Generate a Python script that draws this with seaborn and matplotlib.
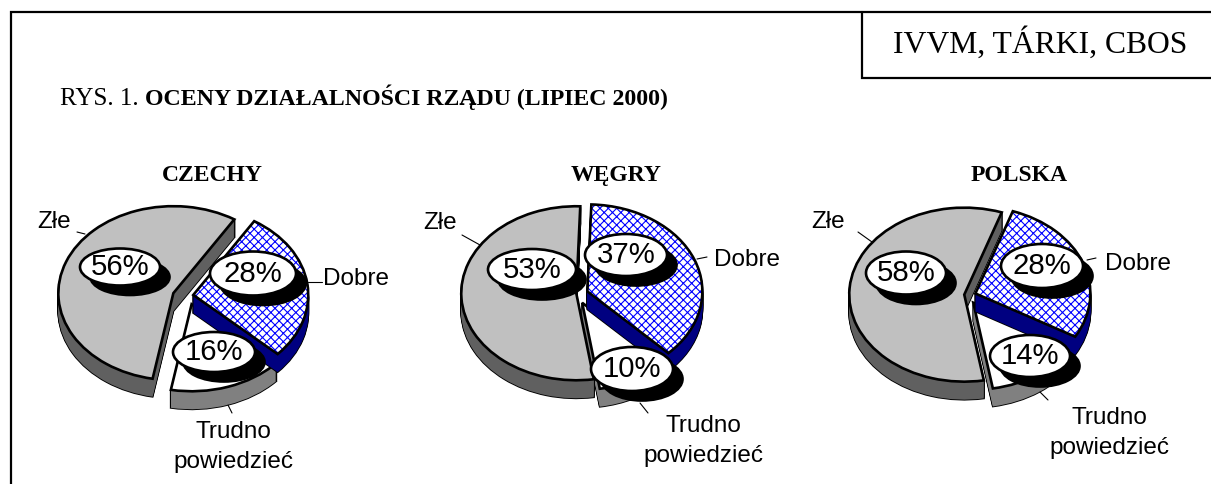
import matplotlib
matplotlib.use('Agg')
import matplotlib.pyplot as plt
from matplotlib.patches import Ellipse
import seaborn as sns

# data
countries = ['CZECHY', 'WĘGRY', 'POLSKA']
categories = ['Dobre', 'Trudno powiedzieć', 'Złe']
czechy = [28, 16, 56]
wegry = [37, 10, 53]
polska = [28, 14, 58]

# layout, in reference pixels
W, H = 1211, 484
RX, RY, DEPTH = 115, 87, 18
centers = [(183, 296), (582, 293), (970, 295)]
start_angles = [58, 88, 71]
explodes = [[0.09, 0.10, 0.09], [0.05, 0.10, 0.05], [0.05, 0.08, 0.05]]
trudno_shift = [(5, 0), (-5, 2), (-2, 2)]
draw_order = [1, 0, 2]

top_colors = sns.color_palette(['#ffffff', '#ffffff', '#c0c0c0'])
side_colors = sns.color_palette(['#000080', '#808080', '#606060'])

title_x = [212, 616, 1019]
bubbles = [
    [(253, 273.5, 43, 22), (214, 352, 41, 20), (120, 267, 40, 18.5)],
    [(626, 255, 41, 21), (632, 369, 41, 22), (532, 269.5, 44, 20.5)],
    [(1042, 266, 41, 22), (1030, 356, 40, 21), (906, 273, 40, 21.5)],
]
name_pos = [
    [(356, 279), (233, 432), (54, 222)],
    [(747, 260), (703, 426), (440, 223)],
    [(1138, 264), (1109, 418), (828, 222)],
]
leaders = [
    [(308, 282, 322, 282), (228, 405, 232, 413), (77, 232, 85, 234)],
    [(697, 259, 707, 257), (640, 403, 648, 413), (462, 235, 480, 245)],
    [(1087, 260, 1096, 258), (1040, 392, 1048, 400), (858, 232, 872, 242)],
]

sns.set_theme(style='white')
plt.rcParams['font.family'] = ['Liberation Sans', 'DejaVu Sans']
plt.rcParams['hatch.linewidth'] = 0.8
plt.rcParams['hatch.color'] = '#0000ff'

fig = plt.figure(figsize=(W / 100, H / 100), dpi=100, facecolor='white')


def nudge(wd, shift):
    # the "Trudno powiedzieć" slice sits a little off its radial explode position
    x, y = wd.center
    wd.set_center((x + shift[0] / RX, y - shift[1] / RY))


def draw_pie(values, center, start, explode, shift):
    cx, cy = center
    ax = fig.add_axes([(cx - 170) / W, 1 - (cy + 130) / H, 340 / W, 240 / H])
    # extruded body: black silhouette first, then fill on top of it
    for step in range(DEPTH, 0, -1):
        for fill in (False, True):
            wedges, _ = ax.pie(values, startangle=start, counterclock=False, explode=explode,
                               center=(0, -step / RY), colors=side_colors)
            nudge(wedges[1], shift)
            for i, wd in enumerate(wedges):
                wd.set_zorder(draw_order[i] * 10 + (1 if fill else 0))
                if fill:
                    wd.set_linewidth(0)
                else:
                    wd.set_edgecolor('black')
                    wd.set_linewidth(1.3)
    # top faces
    wedges, _ = ax.pie(values, startangle=start, counterclock=False, explode=explode, colors=top_colors)
    nudge(wedges[1], shift)
    for i, wd in enumerate(wedges):
        wd.set_zorder(draw_order[i] * 10 + 2)
        wd.set_linewidth(0)
        if i == 0:
            wd.set_hatch('xxxx')
            wd.set_edgecolor('#0000ff')
    outlines, _ = ax.pie(values, startangle=start, counterclock=False, explode=explode,
                         colors=top_colors)
    nudge(outlines[1], shift)
    for i, wd in enumerate(outlines):
        wd.set_facecolor('none')
        wd.set_edgecolor('black')
        wd.set_linewidth(1.9)
        wd.set_zorder(draw_order[i] * 10 + 3)
    ax.set_aspect('auto')
    ax.set_xlim(-170 / RX, 170 / RX)
    ax.set_ylim(-130 / RY, 110 / RY)
    ax.axis('off')


all_values = [czechy, wegry, polska]
for k in range(3):
    draw_pie(all_values[k], centers[k], start_angles[k], explodes[k], trudno_shift[k])

# overlay in pixel coordinates for the frame, titles and labels
over = fig.add_axes([0, 0, 1, 1], zorder=5)
over.set_xlim(0, W)
over.set_ylim(H, 0)
over.axis('off')

over.plot([11, 11, W], [H, 12, 12], color='black', lw=1.6, solid_joinstyle='miter')
over.plot([862, 862, W], [12, 78, 78], color='black', lw=1.6, solid_joinstyle='miter')
over.text(1040, 53, 'IVVM, TÁRKI, CBOS', family='Liberation Serif', fontsize=22.8,
          ha='center', va='baseline', color='black')
over.text(60, 105, 'RYS. 1.', family='Liberation Serif', fontsize=18, va='baseline', color='black')
over.text(145, 105, 'OCENY DZIAŁALNOŚCI RZĄDU (LIPIEC 2000)', family='Liberation Serif',
          fontsize=17.2, fontweight='bold', va='baseline', color='black')

for k, name in enumerate(countries):
    over.text(title_x[k], 181, name, family='Liberation Serif', fontsize=17, fontweight='bold',
              ha='center', va='baseline', color='black')
    for i, value in enumerate(all_values[k]):
        x, y, hw, hh = bubbles[k][i]
        over.add_patch(Ellipse((x + 10, y + 10), hw * 2, hh * 2, fc='black', ec='black', lw=1.2))
        over.add_patch(Ellipse((x, y), hw * 2, hh * 2, fc='white', ec='black', lw=1.9))
        over.text(x, y, f'{value}%', fontsize=21.2, ha='center', va='center', color='black')

        x0, y0, x1, y1 = leaders[k][i]
        over.plot([x0, x1], [y0, y1], color='black', lw=0.8)
        lx, ly = name_pos[k][i]
        if i == 1:
            first, second = categories[i].split(' ')
            over.text(lx, ly, first, fontsize=17.5, ha='center', va='center', color='black')
            over.text(lx, ly + 30, second, fontsize=17.5, ha='center', va='center', color='black')
        else:
            over.text(lx, ly, categories[i], fontsize=17.5, ha='center', va='center', color='black')

fig.savefig('out.png', dpi=100)
